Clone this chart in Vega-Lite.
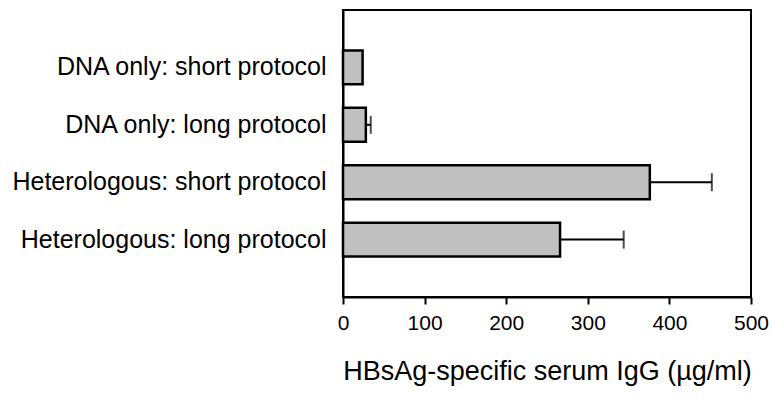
{
  "$schema": "https://vega.github.io/schema/vega-lite/v6.json",
  "autosize": "none",
  "width": 408,
  "height": 287,
  "padding": {"left": 343, "top": 10, "right": 22, "bottom": 102},
  "background": "white",
  "config": {
    "view": {"stroke": "black", "strokeWidth": 2},
    "font": "Liberation Sans",
    "axis": {"grid": false, "domainColor": "black", "domainWidth": 2, "tickColor": "black", "tickWidth": 2, "labelColor": "black", "titleColor": "black", "labelFont": "Liberation Sans", "titleFont": "Liberation Sans", "titleFontWeight": "normal"}
  },
  "data": {
    "values": [
      {"group": "DNA only: short protocol", "value": 24, "upper": null},
      {"group": "DNA only: long protocol", "value": 28, "upper": 34},
      {"group": "Heterologous: short protocol", "value": 376, "upper": 452},
      {"group": "Heterologous: long protocol", "value": 266, "upper": 344}
    ]
  },
  "encoding": {
    "y": {
      "field": "group", "type": "nominal", "sort": null,
      "scale": {"domain": ["DNA only: short protocol", "DNA only: long protocol", "Heterologous: short protocol", "Heterologous: long protocol"], "paddingInner": 0.41, "paddingOuter": 0.705},
      "axis": {"title": null, "ticks": false, "labelFontSize": 25, "labelPadding": 17, "labelLimit": 400}
    }
  },
  "layer": [
    {
      "transform": [{"filter": "datum.upper != null"}],
      "mark": {"type": "rule", "color": "black", "strokeWidth": 2},
      "encoding": {
        "x": {"field": "value", "type": "quantitative"},
        "x2": {"field": "upper"}
      }
    },
    {
      "transform": [{"filter": "datum.upper != null"}],
      "mark": {"type": "tick", "color": "black", "size": 18, "thickness": 2, "orient": "vertical"},
      "encoding": {
        "x": {"field": "upper", "type": "quantitative"}
      }
    },
    {
      "mark": {"type": "bar", "fill": "#c0c0c0", "stroke": "black", "strokeWidth": 2.5},
      "encoding": {
        "x": {
          "field": "value", "type": "quantitative",
          "scale": {"domain": [0, 500], "nice": false},
          "axis": {"title": "HBsAg-specific serum IgG (µg/ml)", "values": [0, 100, 200, 300, 400, 500], "tickSize": 7, "labelFontSize": 21, "labelPadding": 8, "titleFontSize": 27, "titlePadding": 25, "labelFlush": false}
        }
      }
    }
  ]
}
